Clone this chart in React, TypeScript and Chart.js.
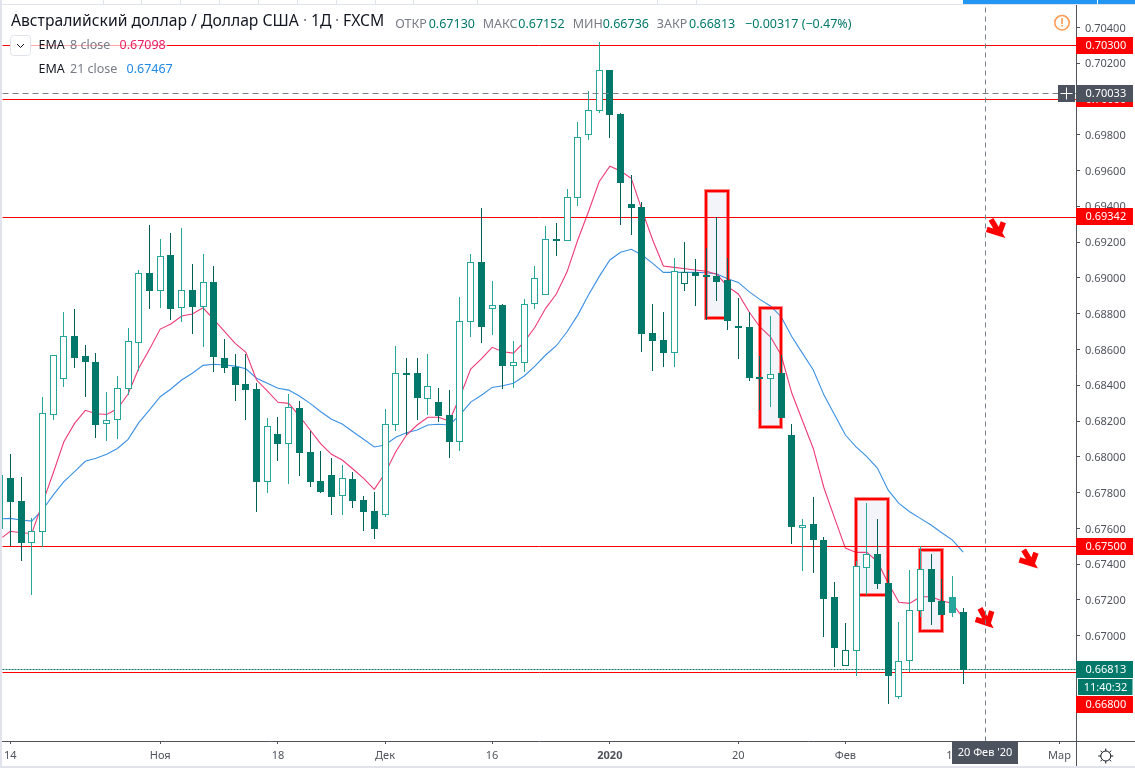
import React, { useEffect, useRef } from "react";
import { Chart, registerables } from "chart.js";

Chart.register(...registerables);

const opens = [
  0.6788,0.67751,0.67522,0.67581,0.68235,0.68439,0.68673,0.68562,0.68528,0.68187,
  0.6821,0.68383,0.6864,0.69026,0.68931,0.69126,0.68835,0.68931,0.68841,0.68977,
  0.6855,0.685,0.68405,0.68377,0.67863,0.68126,0.68075,0.68271,0.68025,0.67863,
  0.67897,0.67785,0.67874,0.67757,0.67695,0.6768,0.68182,0.68467,0.68467,0.68327,
  0.68305,0.68232,0.68087,0.68757,0.69087,0.6883,0.68847,0.68511,0.68528,0.68858,
  0.68908,0.69216,0.69208,0.6945,0.69802,0.69937,0.7016,0.69914,0.69411,0.69394,
  0.6869,0.68651,0.68582,0.6897,0.69031,0.69014,0.6901,0.68983,0.68731,0.68725,
  0.68444,0.68436,0.68463,0.68122,0.67604,0.67623,0.67533,0.67215,0.66832,0.66918,
  0.67382,0.67455,0.67293,0.66659,0.66863,0.67142,0.67371,0.67192,0.67215,0.6713,
];
const highs = [
  0.68014,0.67885,0.67656,0.68334,0.68567,0.68804,0.68824,0.68623,0.68578,0.6836,
  0.6845,0.68718,0.69042,0.69295,0.69217,0.69249,0.69277,0.69076,0.69133,0.69066,
  0.68658,0.68573,0.68573,0.68411,0.68215,0.68221,0.68349,0.6831,0.68142,0.68032,
  0.67992,0.67952,0.67913,0.67781,0.67798,0.68262,0.68619,0.6855,0.6855,0.68573,
  0.68383,0.68373,0.68891,0.69132,0.69389,0.68981,0.68852,0.68643,0.6888,0.69065,
  0.69288,0.69305,0.69495,0.69869,0.70043,0.70317,0.7016,0.6992,0.69573,0.69422,
  0.68852,0.68808,0.69109,0.69199,0.691,0.69165,0.69339,0.69109,0.68887,0.68809,
  0.68563,0.68787,0.68569,0.68183,0.67652,0.67774,0.6755,0.67299,0.67069,0.67414,
  0.6774,0.67651,0.67367,0.67075,0.67367,0.67498,0.67457,0.67315,0.67334,0.67152,
];
const lows = [
  0.67507,0.67423,0.67233,0.67501,0.68206,0.68392,0.68498,0.68336,0.68107,0.6809,
  0.68101,0.68349,0.68481,0.68828,0.68837,0.68766,0.68759,0.68688,0.68615,0.68476,
  0.6847,0.68314,0.68207,0.67693,0.67799,0.67982,0.6785,0.67893,0.67833,0.67799,
  0.67675,0.67675,0.67716,0.67587,0.67542,0.67669,0.68146,0.68126,0.68206,0.68234,
  0.68196,0.67995,0.68038,0.68671,0.6864,0.68682,0.68381,0.68386,0.68476,0.68828,
  0.68908,0.69124,0.69208,0.69407,0.69776,0.69923,0.69783,0.69301,0.69245,0.68587,
  0.68485,0.68504,0.68504,0.68927,0.68848,0.68768,0.68876,0.68714,0.68547,0.68424,
  0.68265,0.68284,0.68219,0.67517,0.67367,0.67352,0.66994,0.66827,0.66832,0.6678,
  0.67228,0.67267,0.6662,0.66648,0.66799,0.6711,0.67065,0.67117,0.6711,0.66736,
];
const closes = [
  0.67749,0.6752,0.67584,0.68243,0.68567,0.68673,0.68554,0.68531,0.68182,0.68204,
  0.68381,0.68645,0.69026,0.68928,0.69121,0.68828,0.68931,0.68839,0.68975,0.68559,
  0.685,0.68405,0.68377,0.67861,0.6817,0.68073,0.68277,0.68023,0.67861,0.67805,
  0.67777,0.6788,0.67755,0.67693,0.67598,0.68182,0.68467,0.68459,0.6833,0.68394,
  0.6823,0.68084,0.68757,0.69087,0.68727,0.68847,0.68511,0.68528,0.68852,0.68998,
  0.69216,0.69208,0.6945,0.69786,0.69937,0.7016,0.69912,0.69532,0.69392,0.68688,
  0.68649,0.68582,0.69034,0.69031,0.69012,0.69007,0.68979,0.68761,0.68721,0.68442,
  0.68436,0.68461,0.68219,0.67609,0.67617,0.67539,0.67207,0.66933,0.66918,0.67388,
  0.67455,0.67291,0.66777,0.66857,0.67142,0.67371,0.6719,0.67117,0.67129,0.66813,
];
const ema8 = [
  0.67584,0.67576,0.67572,0.6774,0.67908,0.68084,0.68187,0.6826,0.68241,0.68237,
  0.68269,0.68351,0.68495,0.68601,0.68714,0.68742,0.68787,0.68798,0.68833,0.68768,
  0.68701,0.68634,0.68584,0.68429,0.68368,0.68305,0.68299,0.68228,0.6815,0.68072,
  0.68014,0.67982,0.67932,0.6788,0.67818,0.67908,0.68028,0.68122,0.68178,0.68221,
  0.68221,0.682,0.68336,0.68491,0.68547,0.68612,0.68587,0.6858,0.68643,0.68724,
  0.6883,0.6891,0.69034,0.69212,0.6937,0.69537,0.69624,0.69597,0.69556,0.69379,
  0.69212,0.69066,0.69059,0.69051,0.69044,0.69037,0.6902,0.68951,0.6891,0.68811,
  0.68727,0.68671,0.68569,0.68355,0.682,0.68047,0.67826,0.67656,0.6749,0.67466,
  0.67466,0.67414,0.67293,0.67187,0.67181,0.67218,0.67218,0.67196,0.67181,0.67098,
];
const ema21 = [
  0.67656,0.67647,0.67641,0.67703,0.67786,0.67861,0.67917,0.67975,0.67992,0.68014,
  0.68047,0.68098,0.68191,0.68262,0.68336,0.68379,0.68429,0.68467,0.68511,0.68517,
  0.68513,0.68507,0.68492,0.68439,0.68411,0.68383,0.68373,0.6834,0.68299,0.68252,
  0.6821,0.68183,0.6814,0.68098,0.68055,0.68066,0.68109,0.68135,0.6815,0.68178,
  0.68182,0.68178,0.68234,0.68306,0.68344,0.68388,0.68397,0.68411,0.68452,0.68507,
  0.68569,0.68621,0.68699,0.68792,0.68904,0.69007,0.691,0.69143,0.6916,0.69128,
  0.69081,0.69031,0.69031,0.69031,0.69031,0.69029,0.69022,0.68995,0.68975,0.68923,
  0.6888,0.68843,0.68783,0.68671,0.68578,0.68485,0.68345,0.68234,0.68122,0.68056,
  0.68001,0.67936,0.67814,0.6774,0.67693,0.67656,0.67619,0.67576,0.67535,0.67467,
];
// The partly hidden bar at the very left edge of the pane
const edgeIndex = -0.75;
const edgeHigh = 0.67898;
const edgeLow = 0.67598;
const edgeEma8 = 0.6755;
const edgeEma21 = 0.67654;

const levels = [0.703, 0.7, 0.69342, 0.675, 0.668];
const lastPrice = 0.66813;
const crossPrice = 0.70033;
const crossIndex = 91;

const boxFrom = [65, 70, 79, 85];
const boxTo = [67, 72, 82, 87];
const boxTop = [0.69486, 0.68833, 0.67764, 0.67479];
const boxBottom = [0.68777, 0.68167, 0.67229, 0.67026];

const arrowXs = [
  [91.6, 92.38, 91.2, 92.38, 92.75],
  [94.65, 95.43, 94.25, 95.43, 95.8],
  [90.57, 91.32, 90.17, 91.32, 91.67],
];
const arrowYs = [
  [0.69327, 0.69249, 0.69271, 0.69249, 0.69311],
  [0.6748, 0.67402, 0.67424, 0.67402, 0.67464],
  [0.67153, 0.67069, 0.67092, 0.67069, 0.67138],
];

const priceTicks = [
  0.704, 0.702, 0.698, 0.696, 0.694, 0.692, 0.69, 0.688, 0.686, 0.684, 0.682,
  0.68, 0.678, 0.676, 0.674, 0.672, 0.67,
];
const timeTickIndex = [0, 14, 25, 35, 45, 56, 68, 78, 88, 98];
const timeTickLabels = ["14", "Ноя", "18", "Дек", "16", "2020", "20", "Фев", "17", "Мар"];

const FONT = '"Noto Sans", sans-serif';
const UP = "#26a69a";
const DOWN = "#00796b";
const DOWN_WICK = "#005f59";
const AXIS = "#50535e";
const TEXT = "#131722";
const MUTED = "#787b86";
const CROSS = "#787f8c";
const RED = "#ff0000";
const PANEL = "#4c525e";
const PX_PER_BAR = 10.706;
const X_MIN = -0.778;
const X_MAX = 99.54;
const Y_MIN = 0.66412;
const Y_MAX = 0.70525;

const tabSeparators = [103, 141, 180, 219, 258, 297, 336, 375, 413, 477, 657, 696];
const idx = closes.map((_, i) => i);

const rising = closes.map((c, i) => c >= (i ? closes[i - 1] : opens[i]));
const hollow = closes.map((c, i) => c > opens[i]);
const bodyEdge = rising.map((r) => (r ? UP : DOWN));
const wickFill = rising.map((r) => (r ? UP : DOWN_WICK));

const hLine = (y: number, color: string, width: number, dash: number[], order: number) => ({
  type: "line" as const,
  data: [{ x: X_MIN, y }, { x: X_MAX, y }],
  borderColor: color,
  borderWidth: width,
  borderDash: dash,
  pointRadius: 0,
  order,
  snap: "line",
});

function text(
  ctx: CanvasRenderingContext2D,
  s: string,
  x: number,
  y: number,
  color: string,
  size = 13,
  align: CanvasTextAlign = "left",
  weight = "400",
) {
  ctx.font = `${weight} ${size}px ${FONT}`;
  ctx.fillStyle = color;
  ctx.textAlign = align;
  ctx.textBaseline = "middle";
  ctx.fillText(s, x, y);
}

// Aligns marks to whole device pixels, as the original renderer does.
const pixelSnap = {
  id: "pixelSnap",
  afterDatasetsUpdate(chart: Chart) {
    chart.data.datasets.forEach((ds: any, di: number) => {
      if (!ds.snap) return;
      chart.getDatasetMeta(di).data.forEach((el: any) => {
        if (ds.snap === "line") {
          el.x = Math.round(el.x) + 0.5;
          el.y = Math.round(el.y) + 0.5;
        } else if (ds.snap === "box") {
          el.x = Math.round(el.x);
          el.y = Math.round(el.y);
        } else {
          const top = Math.floor(Math.min(el.y, el.base));
          let bottom = Math.ceil(Math.max(el.y, el.base));
          if (ds.snap === "body" && bottom - top < 2) bottom = top + 2;
          el.x = Math.floor(el.x) + 0.5;
          el.y = top;
          el.base = bottom;
          el.height = bottom - top;
        }
      });
    });
    // price tick labels sit one pixel lower than the canvas "middle" baseline gives
    const items = (chart.scales.y as any).getLabelItems();
    items.forEach((it: any) => { it.options.translation[1] += 1; });
  },
};

const chrome = {
  id: "chrome",
  beforeDraw(chart: Chart) {
    const { ctx, width, height } = chart;
    ctx.save();
    ctx.fillStyle = "#ffffff";
    ctx.fillRect(0, 0, width, height);
    ctx.fillStyle = "#e0e3eb";
    ctx.fillRect(0, 0, 2, height);
    ctx.fillRect(0, 766, width, 2);
    ctx.fillRect(0, 4, width, 1);
    tabSeparators.forEach((x) => ctx.fillRect(x, 0, 1, 4));
    ctx.fillStyle = "#2196f3";
    ctx.fillRect(963, 0, width - 963, 4);
    ctx.fillStyle = "#ffffff";
    ctx.fillRect(1097, 0, 1, 4);
    ctx.restore();
  },
  afterDraw(chart: Chart) {
    const { ctx, width } = chart;
    const y = chart.scales.y;
    ctx.save();
    // axis frame extensions
    ctx.fillStyle = AXIS;
    ctx.fillRect(1076, 741, 1, 25);
    ctx.fillRect(1076, 741, width - 1076, 1);

    const priceBox = (p: number, bg: string, centerY?: number) => {
      const cy = centerY ?? y.getPixelForValue(p);
      ctx.fillStyle = bg;
      ctx.fillRect(1076, Math.round(cy - 8.5), 57, 17);
      text(ctx, p.toFixed(5), 1085.5, cy + 0.5, "#ffffff", 11);
    };
    priceBox(levels[0], RED);
    priceBox(levels[1], RED);
    priceBox(levels[2], RED);
    priceBox(levels[3], RED);
    priceBox(levels[4], RED, 704);
    priceBox(lastPrice, DOWN);
    // countdown
    ctx.fillStyle = DOWN;
    ctx.fillRect(1077.5, 679, 55.5, 17);
    ctx.strokeStyle = "#ffffff";
    ctx.lineWidth = 1;
    ctx.strokeRect(1077.5, 678.5, 55.5, 17);
    text(ctx, "11:40:32", 1105.5, 687.5, "#ffffff", 11, "center");
    // crosshair price
    priceBox(crossPrice, PANEL);
    ctx.fillStyle = PANEL;
    ctx.fillRect(1058, 85, 17, 17);
    ctx.strokeStyle = "#ffffff";
    ctx.beginPath();
    ctx.moveTo(1060.5, 93.5);
    ctx.lineTo(1072.5, 93.5);
    ctx.moveTo(1066.5, 87.5);
    ctx.lineTo(1066.5, 99.5);
    ctx.stroke();
    // crosshair time
    ctx.fillStyle = PANEL;
    ctx.fillRect(952, 742, 66, 22);
    text(ctx, "20 Фев '20", 985, 753, "#ffffff", 11, "center");

    // settings gear
    ctx.strokeStyle = TEXT;
    ctx.lineWidth = 1;
    ctx.beginPath();
    ctx.arc(1105.8, 756, 5, 0, Math.PI * 2);
    ctx.stroke();
    for (let k = 0; k < 8; k++) {
      const a = (k * Math.PI) / 4;
      ctx.beginPath();
      ctx.moveTo(1105.8 + Math.cos(a) * 5, 756 + Math.sin(a) * 5);
      ctx.lineTo(1105.8 + Math.cos(a) * 7.5, 756 + Math.sin(a) * 7.5);
      ctx.stroke();
    }

    // warning icon
    ctx.strokeStyle = "#ff9850";
    ctx.lineWidth = 1.5;
    ctx.beginPath();
    ctx.arc(1062, 22.7, 7.2, 0, Math.PI * 2);
    ctx.stroke();
    ctx.fillStyle = "#ff9850";
    ctx.fillRect(1061.2, 18, 1.6, 6);
    ctx.fillRect(1061.2, 25, 1.6, 1.6);

    // legend background and button
    ctx.fillStyle = "rgba(255,255,255,0.65)";
    ctx.fillRect(31, 36, 136, 19);
    ctx.fillStyle = "#ffffff";
    ctx.strokeStyle = "#e0e3eb";
    ctx.lineWidth = 1;
    ctx.beginPath();
    ctx.roundRect(10.5, 35.5, 20, 20, 3);
    ctx.fill();
    ctx.stroke();
    ctx.strokeStyle = TEXT;
    ctx.beginPath();
    ctx.moveTo(17, 44);
    ctx.lineTo(20.5, 47.5);
    ctx.lineTo(24, 44);
    ctx.stroke();

    // header
    text(ctx, "Австралийский доллар / Доллар США", 11, 21.5, TEXT, 15.7);
    text(ctx, "·", 303, 21.5, MUTED, 15.7);
    text(ctx, "1Д", 311, 21.5, TEXT, 15.7);
    text(ctx, "·", 335, 21.5, MUTED, 15.7);
    text(ctx, "FXCM", 343, 21.5, TEXT, 15.7);
    const teal = "#00796b";
    text(ctx, "ОТКР", 395.3, 24, MUTED, 12.5);
    text(ctx, "0.67130", 428.7, 24, teal, 12.5);
    text(ctx, "МАКС", 482.7, 24, MUTED, 12.5);
    text(ctx, "0.67152", 518.3, 24, teal, 12.5);
    text(ctx, "МИН", 572.7, 24, MUTED, 12.5);
    text(ctx, "0.66736", 602.7, 24, teal, 12.5);
    text(ctx, "ЗАКР", 656.7, 24, MUTED, 12.5);
    text(ctx, "0.66813", 689, 24, teal, 12.5);
    text(ctx, "−0.00317 (−0.47%)", 745, 24, teal, 12.5);
    // indicators
    text(ctx, "EMA", 38.5, 45.5, TEXT, 12.5);
    text(ctx, "8 close", 70, 45.5, MUTED, 12.5);
    text(ctx, "0.67098", 119.5, 45.5, "#e91e63", 12.5);
    text(ctx, "EMA", 38.5, 69.5, TEXT, 12.5);
    text(ctx, "21 close", 70, 69.5, MUTED, 12.5);
    text(ctx, "0.67467", 126.5, 69.5, "#1e88e5", 12.5);
    ctx.restore();
  },
};

export default function App() {
  const ref = useRef<HTMLCanvasElement | null>(null);

  useEffect(() => {
    document.body.style.margin = "0";
    document.body.style.background = "#ffffff";
    if (!ref.current) return;

    const wicks = [
      { x: edgeIndex, y: [edgeLow, edgeHigh] },
      ...idx.map((i) => ({ x: i, y: [lows[i], highs[i]] })),
    ];
    const bodies = idx.map((i) => ({ x: i, y: [opens[i], closes[i]] }));

    const datasets: any[] = [
      // crosshair above the candles
      hLine(crossPrice, CROSS, 1, [6, 4], 0),
      {
        type: "line",
        data: [{ x: crossIndex, y: Y_MIN }, { x: crossIndex, y: Y_MAX }],
        borderColor: CROSS,
        borderWidth: 1,
        borderDash: [5, 4],
        pointRadius: 0,
        order: 0,
        snap: "line",
      },
      {
        type: "bar",
        data: bodies,
        backgroundColor: idx.map((i) => (hollow[i] ? "#ffffff" : bodyEdge[i])),
        borderColor: bodyEdge,
        borderWidth: 1,
        borderSkipped: false,
        barThickness: 7,
        grouped: false,
        inflateAmount: 0,
        order: 1,
        snap: "body",
      },
      {
        type: "bar",
        data: wicks,
        backgroundColor: [UP, ...wickFill],
        borderWidth: 0,
        borderSkipped: false,
        barThickness: 1,
        grouped: false,
        inflateAmount: 0,
        order: 2,
        snap: "wick",
      },
    ];

    boxFrom.forEach((from, b) => {
      const outline = [
        { x: from, y: boxTop[b] },
        { x: boxTo[b], y: boxTop[b] },
        { x: boxTo[b], y: boxBottom[b] },
        { x: from, y: boxBottom[b] },
        { x: from, y: boxTop[b] },
      ];
      datasets.push({
        type: "line",
        data: outline,
        borderColor: RED,
        borderWidth: 2,
        borderJoinStyle: "miter",
        borderCapStyle: "square",
        pointRadius: 0,
        order: 3,
        snap: "box",
      });
      datasets.push({
        type: "line",
        data: outline,
        borderColor: "rgba(255,0,0,0.45)",
        borderWidth: 4,
        borderJoinStyle: "miter",
        borderCapStyle: "square",
        pointRadius: 0,
        order: 4,
        snap: "box",
      });
      datasets.push({
        type: "bar",
        data: [{ x: (from + boxTo[b]) / 2, y: [boxBottom[b], boxTop[b]] }],
        backgroundColor: "rgba(120,130,190,0.09)",
        borderWidth: 0,
        barThickness: (boxTo[b] - from) * PX_PER_BAR,
        grouped: false,
        inflateAmount: 0,
        order: 5,
      });
    });

    arrowXs.forEach((xs, a) => {
      datasets.push({
        type: "line",
        data: xs.map((x, k) => ({ x, y: arrowYs[a][k] })),
        borderColor: RED,
        borderWidth: 5.5,
        borderJoinStyle: "miter",
        borderCapStyle: "butt",
        pointRadius: 0,
        order: 6,
      });
    });

    levels.forEach((lv) => datasets.push(hLine(lv, RED, 1, [], 7)));
    datasets.push(hLine(lastPrice, DOWN, 1, [2, 1], 7));

    datasets.push({
      type: "line",
      data: [
        { x: edgeIndex, y: edgeEma8 },
        ...ema8.map((y, i) => ({ x: i, y })),
      ],
      borderColor: "#ee3a75",
      borderWidth: 1.1,
      pointRadius: 0,
      tension: 0,
      order: 8,
    });
    datasets.push({
      type: "line",
      data: [
        { x: edgeIndex, y: edgeEma21 },
        ...ema21.map((y, i) => ({ x: i, y })),
      ],
      borderColor: "#3a90e5",
      borderWidth: 1.1,
      pointRadius: 0,
      tension: 0,
      order: 8,
    });

    const noPad = (s: any) => {
      s.paddingLeft = 0;
      s.paddingRight = 0;
      s.paddingTop = 0;
      s.paddingBottom = 0;
    };

    const chart = new Chart(ref.current, {
      data: { datasets },
      plugins: [pixelSnap, chrome],
      options: {
        animation: false,
        responsive: false,
        devicePixelRatio: 1,
        layout: { autoPadding: false, padding: { left: 2, top: 5, right: 0, bottom: 2 } },
        plugins: { legend: { display: false }, tooltip: { enabled: false }, title: { display: false } },
        events: [],
        scales: {
          x: {
            type: "linear",
            offset: false,
            min: X_MIN,
            max: X_MAX,
            afterFit: (s: any) => { s.height = 25; noPad(s); },
            afterBuildTicks: (s: any) => { s.ticks = timeTickIndex.map((value) => ({ value })); },
            grid: { drawOnChartArea: false, drawTicks: true, tickLength: 3, color: AXIS, offset: false },
            border: { color: AXIS },
            ticks: {
              autoSkip: false,
              maxRotation: 0,
              padding: 5,
              color: AXIS,
              font: (c: any) => ({
                family: FONT,
                size: 11,
                weight: timeTickLabels[timeTickIndex.indexOf(c.tick?.value)] === "2020" ? "bold" : "normal",
              }),
              callback: (v: any) => timeTickLabels[timeTickIndex.indexOf(Number(v))] ?? "",
            },
          },
          y: {
            type: "linear",
            position: "right",
            min: Y_MIN,
            max: Y_MAX,
            afterFit: (s: any) => { s.width = 59; noPad(s); },
            afterBuildTicks: (s: any) => { s.ticks = priceTicks.map((value) => ({ value })); },
            grid: { drawOnChartArea: false, drawTicks: true, tickLength: 4, color: AXIS },
            border: { color: AXIS },
            ticks: {
              autoSkip: false,
              padding: 5,
              color: AXIS,
              font: { family: FONT, size: 11 },
              callback: (v: any) => Number(v).toFixed(5),
            },
          },
        },
      },
    } as any);
    return () => chart.destroy();
  }, []);

  return <canvas ref={ref} width={1135} height={768} style={{ display: "block", width: 1135, height: 768 }} />;
}
